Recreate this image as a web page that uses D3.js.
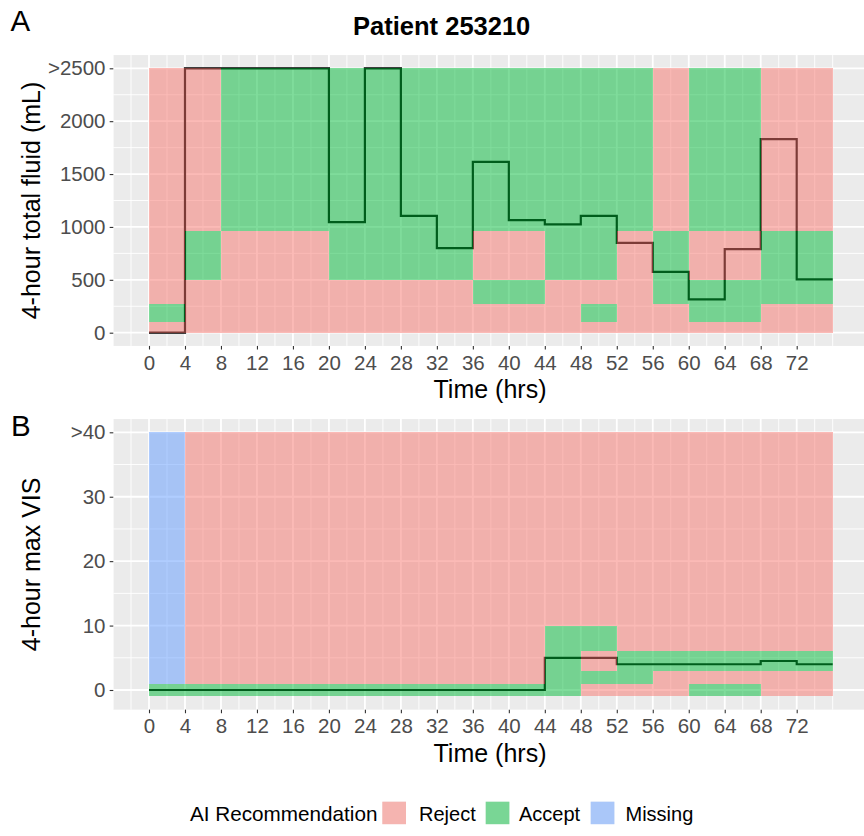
<!DOCTYPE html>
<html>
<head>
<meta charset="utf-8">
<script src="https://cdn.jsdelivr.net/npm/d3@7"></script>
<style>
  html, body { margin: 0; padding: 0; background: #fff; }
  svg { display: block; font-family: "Liberation Sans", Arial, sans-serif; }
</style>
</head>
<body>
<svg id="chart" width="864" height="836"></svg>
<script>
// ---- data ----
// 4-hour windows (start hour of each window)
const timeStarts = [0, 4, 8, 12, 16, 20, 24, 28, 32, 36, 40, 44, 48, 52, 56, 60, 64, 68, 72];
const windowHours = 4;
const xTicks = [0, 4, 8, 12, 16, 20, 24, 28, 32, 36, 40, 44, 48, 52, 56, 60, 64, 68, 72];

// Panel A: fluid bins (lower/upper bounds, mL) and AI recommendation per window
const fluidBins = [[0, 105], [105, 270], [270, 500], [500, 960], [960, 2500]];
const fluidRecs = [
  "RRRRRRRRRRRRRRRRRRR", // 0-105
  "ARRRRRRRRRRRARRAARR", // 105-270
  "RRRRRRRRRAARRRAAAAA", // 270-500
  "RARRRAAAARRAARARRAA", // 500-960
  "RRAAAAAAAAAAAARAARR"  // 960-2500
];
const fluidGiven = [0, 2500, 2500, 2500, 2500, 1045, 2500, 1105, 800, 1615, 1065, 1025, 1105, 850, 575, 315, 790, 1830, 505];
const fluidTicks = [0, 500, 1000, 1500, 2000, 2500];
const fluidTickLabels = ["0", "500", "1000", "1500", "2000", ">2500"];

// Panel B: VIS bins and AI recommendation per window
const visBins = [[-1, 1], [1, 3], [3, 6], [6, 10], [10, 40]];
const visRecs = [
  "AAAAAAAAAAAARRRAARR", // -1-1
  "MRRRRRRRRRRAAARRRRR", // 1-3
  "MRRRRRRRRRRARAAAAAA", // 3-6
  "MRRRRRRRRRRAARRRRRR", // 6-10
  "MRRRRRRRRRRRRRRRRRR"  // 10-40
];
const visGiven = [0, 0, 0, 0, 0, 0, 0, 0, 0, 0, 0, 5, 5, 4, 4, 4, 4, 4.5, 4];
const visTicks = [0, 10, 20, 30, 40];
const visTickLabels = ["0", "10", "20", "30", ">40"];

const recCodes = ["R", "A", "M"];
const recNames = ["Reject", "Accept", "Missing"];
const recColors = ["#F8766D", "#00BA38", "#619CFF"];

// ---- drawing ----
const svg = d3.select("#chart");
const colorOf = d3.scaleOrdinal().domain(recCodes).range(recColors);

const x = d3.scaleLinear().domain([0, 72]).range([149, 796.7]);
const xLo = -3.97, xHi = 79.97;

function drawPanel(cfg) {
  const { y, yLo, yHi, yMajor, yMinor, ticks, tickLabels, bins, recs, given, yTitle } = cfg;
  const g = svg.append("g");
  const px0 = x(xLo), px1 = x(xHi), py0 = y(yHi), py1 = y(yLo);

  g.append("rect").attr("x", px0).attr("y", py0)
    .attr("width", px1 - px0).attr("height", py1 - py0).attr("fill", "#EBEBEB");

  // grid
  const xMinor = d3.range(-4, 77, 2).filter(v => v % 4 !== 0 || v < 0 || v > 72);
  g.selectAll(".gxm").data(xMinor).join("line")
    .attr("x1", d => x(d)).attr("x2", d => x(d)).attr("y1", py0).attr("y2", py1)
    .attr("stroke", "#fff").attr("stroke-width", 0.9);
  g.selectAll(".gym").data(yMinor).join("line")
    .attr("x1", px0).attr("x2", px1).attr("y1", d => y(d)).attr("y2", d => y(d))
    .attr("stroke", "#fff").attr("stroke-width", 0.9);
  g.selectAll(".gxM").data(xTicks).join("line")
    .attr("x1", d => x(d)).attr("x2", d => x(d)).attr("y1", py0).attr("y2", py1)
    .attr("stroke", "#fff").attr("stroke-width", 1.8);
  g.selectAll(".gyM").data(yMajor).join("line")
    .attr("x1", px0).attr("x2", px1).attr("y1", d => y(d)).attr("y2", d => y(d))
    .attr("stroke", "#fff").attr("stroke-width", 1.8);

  // administered amount as a step line (drawn beneath the translucent tiles)
  const pts = given.map((v, i) => [timeStarts[i], v]);
  pts.push([timeStarts[timeStarts.length - 1] + windowHours, given[given.length - 1]]);
  g.append("path").datum(pts)
    .attr("d", d3.line().x(d => x(d[0])).y(d => y(d[1])).curve(d3.curveStepAfter))
    .attr("fill", "none").attr("stroke", "#000").attr("stroke-width", 2.2);

  // recommendation tiles
  const cells = [];
  bins.forEach((b, bi) => {
    timeStarts.forEach((t, ti) => {
      cells.push({ t, lo: b[0], hi: b[1], rec: recs[bi][ti] });
    });
  });
  g.selectAll(".tile").data(cells).join("rect")
    .attr("x", d => x(d.t)).attr("width", d => x(d.t + windowHours) - x(d.t))
    .attr("y", d => y(d.hi)).attr("height", d => y(d.lo) - y(d.hi))
    .attr("fill", d => colorOf(d.rec)).attr("fill-opacity", 0.5)
    .attr("shape-rendering", "crispEdges");

  // axes
  const ax = g.append("g").attr("transform", `translate(0,${py1})`)
    .call(d3.axisBottom(x).tickValues(xTicks).tickSize(3.6).tickPadding(5.5));
  const ay = g.append("g").attr("transform", `translate(${px0},0)`)
    .call(d3.axisLeft(y).tickValues(ticks).tickFormat((d, i) => tickLabels[i]).tickSize(3.6).tickPadding(4.2));
  [ax, ay].forEach(a => {
    a.select(".domain").remove();
    a.selectAll(".tick line").attr("stroke", "#333").attr("stroke-width", 1.1);
    a.selectAll(".tick text").attr("fill", "#4D4D4D").style("font-size", "20.5px")
      .style("font-family", '"Liberation Sans", Arial, sans-serif');
  });

  g.append("text").attr("x", 490).attr("y", py1 + 52)
    .attr("text-anchor", "middle").style("font-size", "25px").attr("fill", "#000")
    .text("Time (hrs)");
  g.append("text")
    .attr("transform", `translate(39.5,${(py0 + py1) / 2}) rotate(-90)`)
    .attr("text-anchor", "middle").style("font-size", "25px").attr("fill", "#000")
    .text(yTitle);
}

drawPanel({
  y: d3.scaleLinear().domain([0, 2500]).range([332.7, 68.3]),
  yLo: -125, yHi: 2625,
  yMajor: fluidTicks, yMinor: [250, 750, 1250, 1750, 2250],
  ticks: fluidTicks, tickLabels: fluidTickLabels,
  bins: fluidBins, recs: fluidRecs, given: fluidGiven,
  yTitle: "4-hour total fluid (mL)"
});

drawPanel({
  y: d3.scaleLinear().domain([0, 40]).range([690, 432.3]),
  yLo: -3.05, yHi: 42.05,
  yMajor: visTicks, yMinor: [5, 15, 25, 35],
  ticks: visTicks, tickLabels: visTickLabels,
  bins: visBins, recs: visRecs, given: visGiven,
  yTitle: "4-hour max VIS"
});

// title and panel tags
svg.append("text").attr("x", 441.7).attr("y", 35).attr("text-anchor", "middle")
  .style("font-size", "25.5px").style("font-weight", "bold").text("Patient 253210");
svg.append("text").attr("x", 10.5).attr("y", 31).style("font-size", "29.5px").text("A");
svg.append("text").attr("x", 11).attr("y", 436).style("font-size", "29.5px").text("B");

// legend
const leg = svg.append("g");
leg.append("text").attr("x", 190).attr("y", 820.7).style("font-size", "20.7px").text("AI Recommendation");
const keyX = [382.3, 485.7, 590.7];
const labX = [419, 519, 625.5];
recCodes.forEach((c, i) => {
  leg.append("rect").attr("x", keyX[i]).attr("y", 801.7).attr("width", 23.7).attr("height", 22.5)
    .attr("fill", "#F2F2F2");
  leg.append("rect").attr("x", keyX[i]).attr("y", 801.7).attr("width", 23.7).attr("height", 22.5)
    .attr("fill", colorOf(c)).attr("fill-opacity", 0.5);
  leg.append("text").attr("x", labX[i]).attr("y", 820.7).style("font-size", "20px").text(recNames[i]);
});
</script>
</body>
</html>
